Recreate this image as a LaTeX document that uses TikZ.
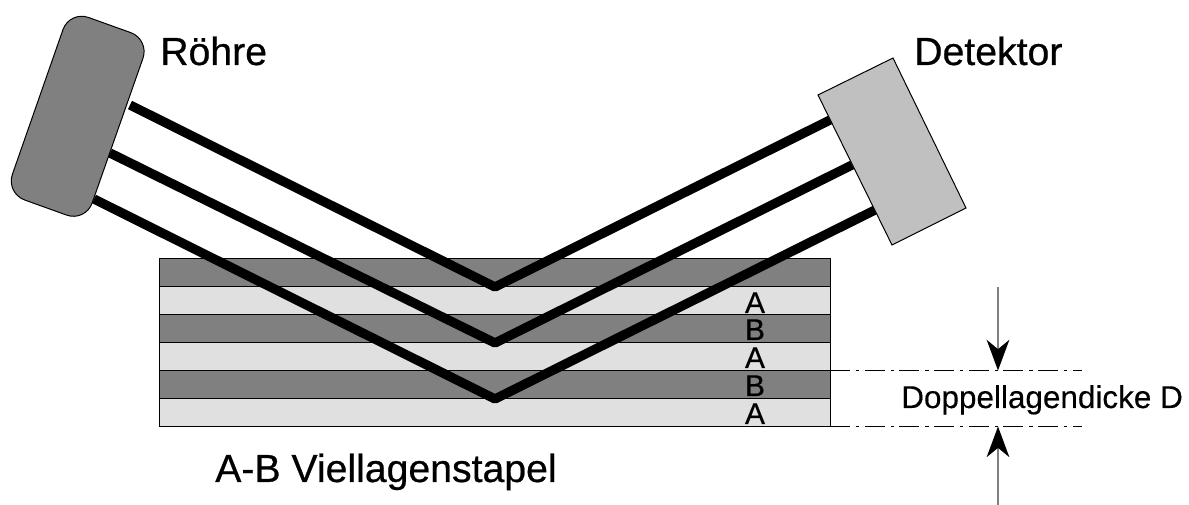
\documentclass[tikz,border=0pt]{standalone}
\usepackage{fontspec}
\setmainfont{Liberation Sans}
\usetikzlibrary{arrows.meta}
\definecolor{dunkel}{HTML}{808080}
\definecolor{hell}{HTML}{E0E0E0}
\definecolor{kasten}{HTML}{C0C0C0}
\tikzset{
  dunkellage/.style={draw=black,line width=.6pt,fill=dunkel},
  helllage/.style={draw=black,line width=.6pt,fill=hell},
  strahl/.style={line width=7pt,line join=bevel},
  gross/.style={anchor=base west,inner sep=0pt,font=\fontsize{29.4pt}{30pt}\selectfont\addfontfeature{FakeBold=0.6}},
  klein/.style={anchor=base west,inner sep=0pt,font=\fontsize{23.6pt}{24pt}\selectfont\addfontfeature{FakeBold=0.3}},
  lage/.style={anchor=base,inner sep=0pt,font=\fontsize{22.5pt}{23pt}\selectfont\addfontfeature{FakeBold=0.5}},
  mass/.style={line width=.75pt,dash pattern=on 15pt off 4.5pt on 2.5pt off 4pt},
  pfeil/.style={draw=dunkel,line width=1pt,-{Stealth[black,length=23pt,width=17pt,inset=7pt]}}
}
\begin{document}
\begin{tikzpicture}[x=.75pt,y=-.75pt]
   \useasboundingbox (0,0) rectangle (1189,505);

   % Stapel
   \draw[dunkellage] (159.5,258.5) rectangle (830,286.5);
   \draw[helllage] (159.5,286.5) rectangle (830,314.5);
   \draw[dunkellage] (159.5,314.5) rectangle (830,342.5);
   \draw[helllage] (159.5,342.5) rectangle (830,370.5);
   \draw[dunkellage] (159.5,370.5) rectangle (830,398.5);
   \draw[helllage] (159.5,398.5) rectangle (830,426.5);

   % Strahlen
   \draw[strahl] (130,105) -- (495,287) -- (830,120);
   \draw[strahl] (110,153) -- (495,343) -- (852,165);
   \draw[strahl] (94,199) -- (495,399) -- (875,210);

   % Roehre und Detektor
   \draw[fill=dunkel,line width=.75pt,rounded corners=15pt] (69.6,10.7) -- (149.6,39.4) -- (85.5,221.9) -- (5.8,193.2) -- cycle;
   \draw[fill=kasten,line width=.75pt] (818,95) -- (893,58) -- (966,208) -- (892,245) -- cycle;

   \node(roehre)[gross] at (160,65) {Röhre};
   \node(detektor)[gross] at (914,65) {Detektor};
   \node(stapel)[gross] at (215,482) {A-B Viellagenstapel};
   \node(dicke)[klein] at (901,408) {Doppellagendicke D};

   \node(a1)[lage] at (755,313) {A};
   \node(b1)[lage] at (755,340) {B};
   \node(a2)[lage] at (755,368) {A};
   \node(b2)[lage] at (755,396) {B};
   \node(a3)[lage] at (755,424) {A};

   % Masslinien
   \coordinate (o1) at (830,370.5);
   \coordinate (o2) at (1082,370.5);
   \coordinate (u1) at (830,426.5);
   \coordinate (u2) at (1082,426.5);
   \draw[mass] (o1) -- (o2);
   \draw[mass] (u1) -- (u2);

   \coordinate (p1) at (998,287);
   \coordinate (p2) at (998,370.5);
   \coordinate (p3) at (998,505);
   \coordinate (p4) at (998,426.5);
   \draw[pfeil] (p1) -- (p2);
   \draw[pfeil] (p3) -- (p4);
\end{tikzpicture}
\end{document}
